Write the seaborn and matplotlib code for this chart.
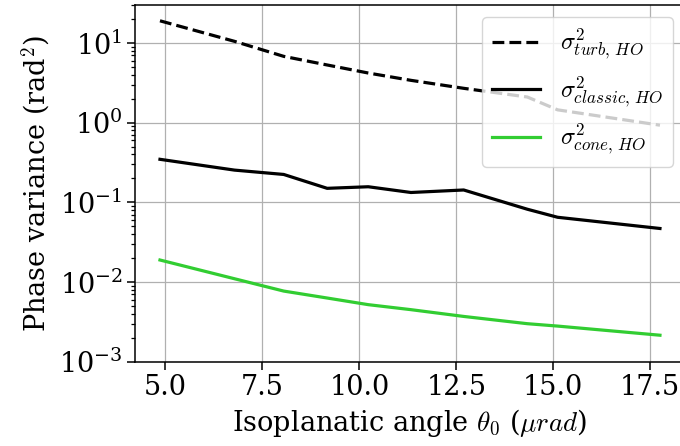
import matplotlib
matplotlib.use("Agg")
import matplotlib.pyplot as plt
import seaborn as sns
import numpy as np
import pandas as pd

# isoplanatic angle (urad) and phase variances (rad^2)
theta0 = [4.86, 6.78, 8.05, 9.17, 10.23, 11.33, 12.69, 14.33, 15.11, 17.75]
var_turb = [19.0, 10.5, 6.8, 5.3, 4.2, 3.4, 2.7, 2.1, 1.45, 0.93]
var_classic = [0.347, 0.254, 0.224, 0.150, 0.157, 0.133, 0.143, 0.082, 0.065, 0.047]
var_cone = [0.0189, 0.0110, 0.0077, 0.0063, 0.0052, 0.0045, 0.0037, 0.0030, 0.0028, 0.00215]
xticks = [5.0, 7.5, 10.0, 12.5, 15.0, 17.5]

labels = [r'$\sigma^2_{turb,\,HO}$', r'$\sigma^2_{classic,\,HO}$', r'$\sigma^2_{cone,\,HO}$']

plt.rcParams['font.family'] = ['DejaVu Serif']
plt.rcParams['mathtext.fontset'] = 'cm'
plt.rcParams['font.size'] = 19.5
plt.rcParams['xtick.major.size'] = 5.5
plt.rcParams['ytick.major.size'] = 5.5
plt.rcParams['ytick.minor.size'] = 3.2
plt.rcParams['xtick.major.width'] = 1.1
plt.rcParams['ytick.major.width'] = 1.1
plt.rcParams['ytick.minor.width'] = 0.9
plt.rcParams['axes.linewidth'] = 1.1

fig = plt.figure(figsize=(6.8, 4.46), dpi=100)
ax = fig.add_axes([0.1985, 0.189, 0.8088, 0.7998])

df = pd.DataFrame({'theta0': theta0, 'turb': var_turb, 'classic': var_classic, 'cone': var_cone})
sns.lineplot(ax=ax, data=df, x='theta0', y='turb', color='black', lw=2.3, ls='--', label=labels[0])
sns.lineplot(ax=ax, data=df, x='theta0', y='classic', color='black', lw=2.3, label=labels[1])
sns.lineplot(ax=ax, data=df, x='theta0', y='cone', color='limegreen', lw=2.3, label=labels[2])

ax.set_yscale('log')
ax.set_ylim(1e-3, 30)
ax.set_xticks(xticks)
ax.set_xticklabels([f'{t:.1f}' for t in xticks])
ax.grid(True, which='major', color='#b0b0b0', lw=0.9)
ax.set_xlabel(r'Isoplanatic angle $\theta_0$ ($\mu rad$)')
ax.set_ylabel(r'Phase variance (rad$^2$)')
ax.legend(loc='upper right', fontsize=17.5)

fig.savefig('out.png', dpi=100)
